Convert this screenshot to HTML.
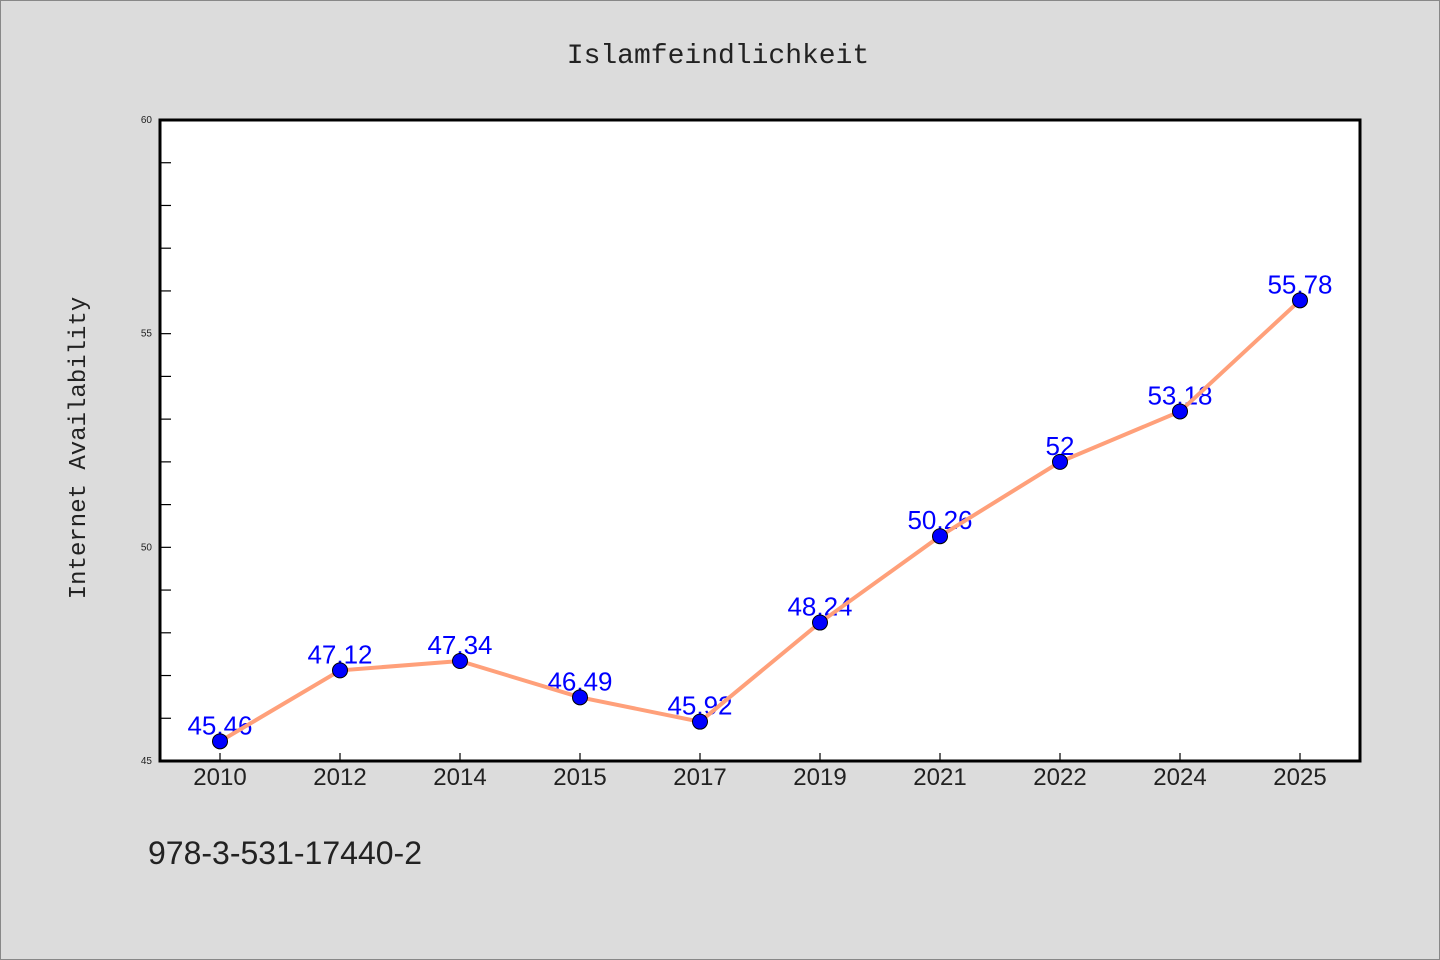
<!DOCTYPE html>
<html><head><meta charset="utf-8"><style>
body{margin:0;background:#dcdcdc;}
svg{display:block;}
</style></head><body>
<svg id="chart" width="1440" height="960" xmlns="http://www.w3.org/2000/svg">
<rect x="0.5" y="0.5" width="1439" height="959" fill="#dcdcdc" stroke="#888"/>
<text x="718" y="63" text-anchor="middle" font-family="'WenQuanYi Zen Hei','Liberation Mono',monospace" font-size="28" fill="#222">Islamfeindlichkeit</text>
<rect x="160" y="120" width="1200" height="641" fill="#fff"/>
<g id="ticks"></g>
<g id="labels"></g>
<g id="series"></g>
<rect x="160" y="120" width="1200" height="641" fill="none" stroke="#000" stroke-width="3"/>
<text transform="translate(85,448) rotate(-90)" text-anchor="middle" font-family="'WenQuanYi Zen Hei','Liberation Mono',monospace" font-size="24" fill="#222">Internet Availability</text>
<text x="148" y="864" font-family="'WenQuanYi Zen Hei','Liberation Sans',sans-serif" font-size="32" fill="#222">978-3-531-17440-2</text>
</svg>
<script>
const categories=["2010","2012","2014","2015","2017","2019","2021","2022","2024","2025"];
const values=[45.46,47.12,47.34,46.49,45.92,48.24,50.26,52,53.18,55.78];
const printed=["45.46","47.12","47.34","46.49","45.92","48.24","50.26","52","53.18","55.78"];
const yTicks=[45,50,55,60];
const yMin=45,yMax=60;
const NS="http://www.w3.org/2000/svg";
function xS(i){return 160+1200*(i+0.5)/categories.length;}
function yS(v){return 761-(v-yMin)/(yMax-yMin)*641;}
function mk(tag,attrs,parent){const e=document.createElementNS(NS,tag);for(const k in attrs)e.setAttribute(k,attrs[k]);parent.appendChild(e);return e;}
const tg=document.getElementById('ticks'),lg=document.getElementById('labels'),sg=document.getElementById('series');
for(let v=yMin+1;v<yMax;v++){
  const t=mk('line',{x1:160,x2:171,y1:yS(v),y2:yS(v),stroke:'#000','stroke-width':1.2},tg);
  
  
}
yTicks.forEach(v=>{
  const t=mk('text',{x:152,y:yS(v)+3,'text-anchor':'end','font-family':'Liberation Sans,sans-serif','font-size':10,fill:'#222'},tg);
  t.textContent=v;
  
  
});
categories.forEach((c,i)=>{
  const l=mk('line',{x1:xS(i),x2:xS(i),y1:761,y2:753,stroke:'#000','stroke-width':1.2},tg);
  
  
  const t=mk('text',{x:xS(i),y:785,'text-anchor':'middle','font-family':"'WenQuanYi Zen Hei','Liberation Sans',sans-serif",'font-size':24,fill:'#222'},tg);
  t.textContent=c;
  
  
});
values.forEach((v,i)=>{
  const t=mk('text',{x:xS(i),y:yS(v)-7,'text-anchor':'middle','font-family':'Liberation Sans,sans-serif','font-size':26,fill:'#0000ff'},lg);
  t.textContent=printed[i];
  
  
});
const pl=mk('polyline',{points:values.map((v,i)=>xS(i)+','+yS(v)).join(' '),fill:'none',stroke:'#ffa07a','stroke-width':4},sg);


values.forEach((v,i)=>{
  const c=mk('circle',{cx:xS(i),cy:yS(v),r:7.5,fill:'#0000ff',stroke:'#000','stroke-width':1},sg);
  
  
});
</script>
</body></html>
